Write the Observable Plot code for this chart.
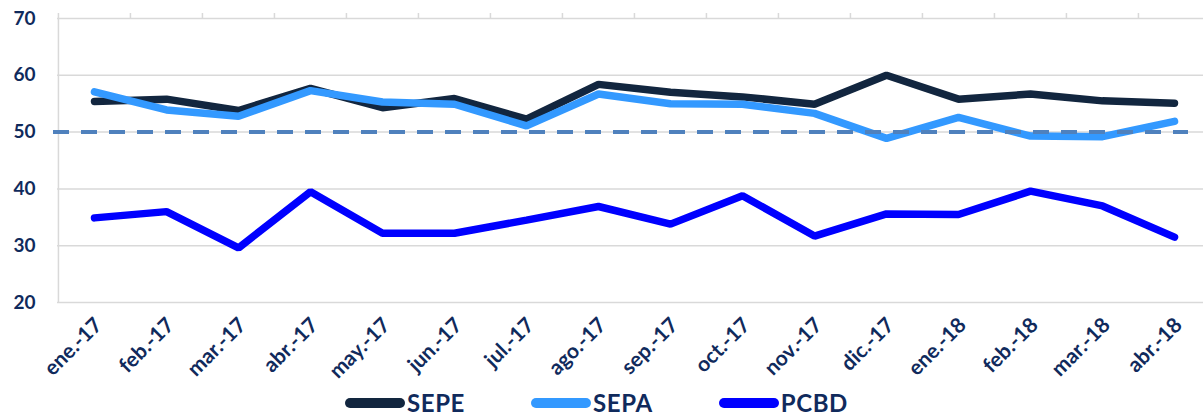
<!DOCTYPE html>
<html>
<head>
<meta charset="utf-8">
<script src="https://cdn.jsdelivr.net/npm/d3@7"></script>
<script src="https://cdn.jsdelivr.net/npm/@observablehq/plot@0.6"></script>
<style>
  html, body { margin: 0; padding: 0; background: #fff; overflow: hidden; }
  #chart svg { display: block; }
  #legend { display: flex; align-items: center; height: 28px; line-height: 28px; margin-left: 345px; font-family: Lato, sans-serif; font-weight: bold; font-size: 24px; letter-spacing: 0.6px; color: #102a5c; }
  .item { display: flex; align-items: center; margin-right: 66px; }
  .sw { width: 60px; height: 10px; border-radius: 5px; margin-right: 2px; }
</style>
</head>
<body>
<div id="chart"></div>
<div id="legend"></div>
<script>
const months = ["ene.-17", "feb.-17", "mar.-17", "abr.-17", "may.-17", "jun.-17", "jul.-17", "ago.-17", "sep.-17", "oct.-17", "nov.-17", "dic.-17", "ene.-18", "feb.-18", "mar.-18", "abr.-18"];
const sepe = [55.4, 55.8, 53.8, 57.7, 54.3, 55.9, 52.3, 58.4, 57.0, 56.2, 54.9, 60.0, 55.8, 56.7, 55.5, 55.1];
const sepa = [57.1, 53.9, 52.8, 57.3, 55.3, 54.9, 51.1, 56.7, 55.0, 54.9, 53.3, 48.9, 52.6, 49.3, 49.2, 51.9];
const pcbd = [34.9, 36.0, 29.6, 39.5, 32.2, 32.2, 34.5, 36.9, 33.8, 38.8, 31.7, 35.6, 35.5, 39.6, 37.0, 31.5];
const seriesNames = ["SEPE", "SEPA", "PCBD"];
const seriesColors = ["#12263f", "#3399ff", "#0000ff"];
const yTicks = [20, 30, 40, 50, 60, 70];
const threshold = [50];

const seriesValues = [sepe, sepa, pcbd];
const data = [];
seriesNames.forEach((s, i) => months.forEach((m, j) => data.push({series: s, month: m, value: seriesValues[i][j]})));

const W = 1203, H = 389, mL = 57, mR = -8, mT = 18, plotBottom = 302;
const step = (W - mL - mR) / months.length;
const navy = "#102a5c";
const grid = "#d9d9d9";

const chart = Plot.plot({
  width: W, height: H,
  marginLeft: mL, marginRight: mR, marginTop: mT, marginBottom: H - plotBottom,
  style: {fontFamily: "Lato, sans-serif", background: "#fff"},
  x: {type: "point", domain: months, padding: 0.5, label: null},
  y: {domain: [20, 70], label: null},
  color: {domain: seriesNames, range: seriesColors},
  marks: [
    Plot.gridY(yTicks, {stroke: grid, strokeOpacity: 1, strokeWidth: 1.5}),
    Plot.ruleX([months[0]], {dx: -step / 2, y1: 20, y2: 70, stroke: grid, strokeWidth: 1.5}),
    Plot.axisX({anchor: "top", tickSize: 6, tickFormat: () => "", dx: -step / 2, stroke: grid, strokeWidth: 1.5}),
    Plot.axisY(yTicks, {tickSize: 0, tickPadding: 22, fontSize: 19, fontWeight: "bold", color: navy}),
    Plot.axisX({anchor: "bottom", tickSize: 0, tickPadding: 19, tickRotate: -45, dx: 4, fontSize: 21, fontWeight: "bold", color: navy, style: {letterSpacing: "0.6px"}}),
    Plot.line(data, {x: "month", y: "value", z: "series", stroke: "series", strokeWidth: 7.5, strokeLinecap: "round", strokeLinejoin: "miter"}),
    Plot.ruleY(threshold, {stroke: "#4f81bd", strokeWidth: 4, strokeDasharray: "16,12", insetLeft: -4, insetRight: 23})
  ]
});
document.getElementById("chart").append(chart);

const legend = document.getElementById("legend");
seriesNames.forEach((s, i) => {
  const it = document.createElement("div");
  it.className = "item";
  const sw = document.createElement("span");
  sw.className = "sw";
  sw.style.background = seriesColors[i];
  const t = document.createElement("span");
  t.textContent = s;
  it.append(sw, t);
  legend.append(it);
});
</script>
</body>
</html>
